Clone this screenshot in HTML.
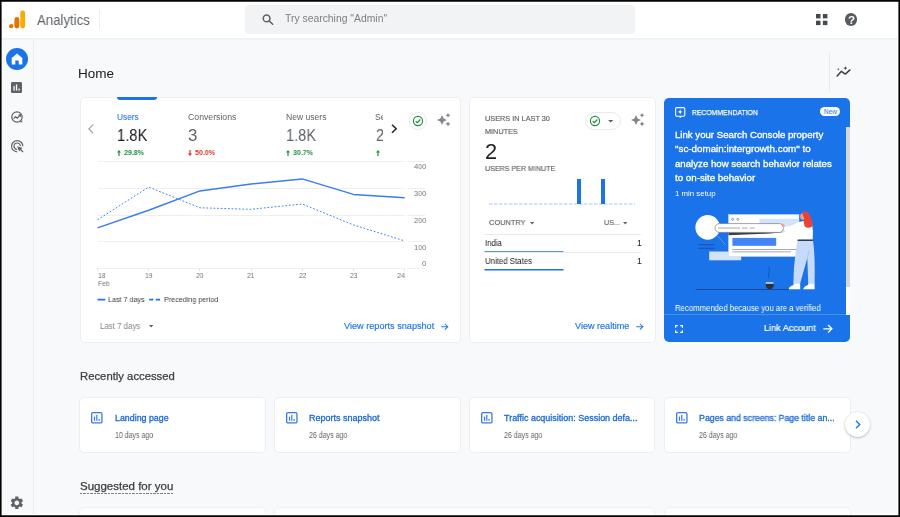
<!DOCTYPE html>
<html>
<head>
<meta charset="utf-8">
<title>Analytics</title>
<style>
*{box-sizing:border-box;margin:0;padding:0}
html,body{width:900px;height:517px;overflow:hidden;background:#f8f9fa}
body{font-family:"Liberation Sans",sans-serif;color:#202124;position:relative}
.a{position:absolute}
.t{position:absolute;white-space:nowrap;line-height:1;will-change:transform;transform-origin:0 0}
.card{position:absolute;background:#fff;border:1px solid #eceef1;border-radius:5px}
svg{position:absolute;overflow:visible}
</style>
</head>
<body>
<div class="a" style="left:0.0px;top:38.0px;width:900.0px;height:2.5px;background:linear-gradient(#eceef0,#f3f4f6 55%,#f8f9fa);"></div>
<div class="a" style="left:0.0px;top:0.0px;width:900.0px;height:38.2px;background:#fff;"></div>
<svg style="left:8px;top:9px" width="20" height="20" viewBox="0 0 20 20">
<circle cx="3.2" cy="17.2" r="2.15" fill="#e37400"/>
<rect x="6.4" y="8.1" width="4.9" height="11.3" rx="2.45" fill="#e37400"/>
<rect x="12.3" y="1.4" width="4.8" height="18" rx="2.4" fill="#f9ab00"/>
</svg>
<div class="t" style="left:36.7px;top:13px;font-size:14.24px;color:#5f6368;transform:scaleX(0.928);">Analytics</div>
<div class="a" style="left:99.0px;top:10.0px;width:1.0px;height:18.5px;background:#eceef0;"></div>
<div class="a" style="left:245.3px;top:5.0px;width:389.7px;height:28.8px;background:#f1f3f4;border-radius:4px"></div>
<svg style="left:261.5px;top:14.2px" width="12" height="11" viewBox="0 0 12 11" fill="none" stroke="#5f6368" stroke-width="1.55">
<circle cx="4.6" cy="4.4" r="3.35"/><path d="M7.1 6.9L10.7 10.3" stroke-linecap="round"/></svg>
<div class="t" style="left:285.0px;top:14px;font-size:10.32px;color:#7b8086;transform:scaleX(1.006);">Try searching &quot;Admin&quot;</div>
<svg style="left:816px;top:14px" width="12" height="12" viewBox="0 0 12 12" fill="#46494d">
<rect x="0" y="0" width="4.5" height="4.4"/><rect x="6.900" y="0" width="4.500" height="4.400"/>
<rect x="0" y="6.700" width="4.500" height="4.400"/><rect x="6.900" y="6.700" width="4.500" height="4.400"/></svg>
<div class="a" style="left:844.7px;top:13.2px;width:12.6px;height:12.6px;background:#575b60;border-radius:50%"></div>
<div class="t" style="left:847.8px;top:14px;font-size:11.63px;color:#fff;font-weight:bold;transform:scaleX(1.000);">?</div>
<div class="a" style="left:33.0px;top:39.5px;width:1.2px;height:477.5px;background:#eceef0;"></div>
<div class="a" style="left:5.8px;top:47.5px;width:22.4px;height:22.4px;background:#1a73e8;border-radius:50%"></div>
<svg style="left:11px;top:52.7px" width="12" height="12" viewBox="0 0 12 12">
<path d="M6 0.6 L11.3 4.9 V11.6 H7.7 V7.6 H4.3 V11.6 H0.7 V4.9 Z" fill="#fff"/></svg>
<svg style="left:11.2px;top:82.2px" width="11" height="11" viewBox="0 0 11 11">
<rect x="0" y="0" width="11" height="11" rx="1.3" fill="#5f6368"/>
<rect x="2.4" y="4.2" width="1.3" height="4.4" fill="#f8f9fa"/>
<rect x="4.9" y="2.4" width="1.3" height="6.2" fill="#f8f9fa"/>
<rect x="7.4" y="6.6" width="1.3" height="2" fill="#f8f9fa"/></svg>
<svg style="left:10.8px;top:110.8px" width="12.4" height="12.4" viewBox="0 0 12.4 12.4" fill="none" stroke="#5f6368">
<circle cx="6" cy="6" r="5.2" stroke-width="1.25"/>
<path d="M9.6 9.9 L11.3 9.6 V11.3 H9.3 Z" fill="#5f6368" stroke="none"/>
<path d="M2.6 7.6 L4.6 5.6 L6.2 7.2 L9.2 4.2" stroke-width="1.25"/>
<path d="M7.6 3.9 H9.5 V5.8" stroke-width="1.1"/></svg>
<svg style="left:10.6px;top:139.6px" width="14" height="14" viewBox="0 0 14 14" fill="none" stroke="#5f6368">
<path d="M6.2 11.8 A5.6 5.6 0 1 1 11.8 6.2" stroke-width="1.2"/>
<path d="M6.2 9.4 A3.2 3.2 0 1 1 9.4 6.2" stroke-width="1.2"/>
<path d="M6.2 6.2 L11.6 8.1 L10 9.1 L12.5 11.6 L11.6 12.5 L9.1 10 L8.1 11.6 Z" fill="#5f6368" stroke="none"/></svg>
<svg style="left:9.05px;top:495.05px" width="15.7" height="15.7" viewBox="0 0 24 24">
<path fill="#5f6368" d="M19.14 12.94c.04-.3.06-.61.06-.94 0-.32-.02-.64-.07-.94l2.03-1.58a.49.49 0 0 0 .12-.61l-1.92-3.32a.488.488 0 0 0-.59-.22l-2.39.96c-.5-.38-1.03-.7-1.62-.94l-.36-2.54a.484.484 0 0 0-.48-.41h-3.84c-.24 0-.43.17-.47.41l-.36 2.54c-.59.24-1.13.57-1.62.94l-2.39-.96c-.22-.08-.47 0-.59.22L2.740 8.870c-.12.21-.08.47.12.61l2.030 1.580c-.05.3-.09.63-.09.94s.02.64.07.94l-2.030 1.580a.49.49 0 0 0-.12.61l1.920 3.320c.12.22.37.29.59.22l2.390-.96c.5.38 1.030.7 1.620.94l.36 2.540c.05.24.24.41.48.41h3.840c.24 0 .44-.17.47-.41l.36-2.540c.59-.24 1.130-.56 1.620-.94l2.390.96c.22.08.47 0 .59-.22l1.920-3.320c.12-.22.07-.47-.12-.61l-2.010-1.580zM12 15.600c-1.980 0-3.600-1.620-3.600-3.600s1.620-3.600 3.600-3.600 3.600 1.620 3.600 3.600-1.620 3.600-3.600 3.600z"/></svg>
<div class="t" style="left:77.9px;top:67px;font-size:13.52px;color:#202124;transform:scaleX(0.990);">Home</div>
<div class="a" style="left:829.0px;top:53.0px;width:1.0px;height:37.5px;background:#e6e8eb;"></div>
<svg style="left:835.5px;top:66px" width="15" height="11" viewBox="0 0 15 11" fill="none" stroke="#3c4043" stroke-width="1.45" stroke-linecap="round" stroke-linejoin="round">
<path d="M1.2 10.1 L5.400 5.300 L9.300 8.100 L14 3.900"/>
<path d="M2.300 2 L2.700 2.800 L3.500 3.200 L2.700 3.600 L2.300 4.400 L1.900 3.600 L1.100 3.200 L1.900 2.800 Z" fill="#3c4043" stroke="none"/>
<path d="M9.400 0.200 L10 1.500 L11.300 2.100 L10 2.700 L9.400 4 L8.800 2.700 L7.500 2.100 L8.800 1.500 Z" fill="#3c4043" stroke="none"/>
</svg>
<div class="card" style="left:80px;top:97px;width:381px;height:246px"></div>
<div class="a" style="left:117.2px;top:96.7px;width:40.0px;height:3.8px;background:#1a73e8;border-radius:0 0 3px 3px"></div>
<svg style="left:88px;top:124px" width="6" height="10" viewBox="0 0 6 10" fill="none" stroke="#9aa0a6" stroke-width="1.2"><path d="M5.2 0.6 L0.9 4.9 L5.2 9.2"/></svg>
<div class="t" style="left:116.8px;top:113px;font-size:8.34px;color:#3d80ee;transform:scaleX(0.999);-webkit-text-stroke:0.15px #3d80ee;">Users</div>
<div class="t" style="left:187.8px;top:113px;font-size:8.58px;color:#5f6368;transform:scaleX(1.015);">Conversions</div>
<div class="t" style="left:285.6px;top:113px;font-size:8.58px;color:#5f6368;transform:scaleX(1.000);">New users</div>
<div class="a" style="left:374px;top:105px;width:8.6px;height:55px;overflow:hidden">
<div class="t" style="left:1.3px;top:8px;font-size:8.58px;color:#5f6368;transform:scaleX(0.969);">Sessions</div>
<div class="t" style="left:1.6px;top:23px;font-size:16.86px;color:#5f6368;transform:scaleX(0.848);">2.1K</div>
</div>
<div class="t" style="left:116.9px;top:128px;font-size:16.86px;color:#202124;transform:scaleX(0.874);">1.8K</div>
<div class="t" style="left:188.4px;top:128px;font-size:16.86px;color:#5f6368;transform:scaleX(1.000);">3</div>
<div class="t" style="left:285.8px;top:128px;font-size:16.86px;color:#5f6368;transform:scaleX(0.865);">1.8K</div>
<svg style="left:117.4px;top:149.6px" width="4" height="6" viewBox="0 0 4 6"><path d="M2 0 L4 2.4 H2.6 V6 H1.4 V2.4 H0 Z" fill="#1e8e3e"/></svg>
<div class="t" style="left:123.9px;top:149px;font-size:7.99px;color:#1e8e3e;font-weight:bold;transform:scaleX(0.882);">29.8%</div>
<svg style="left:188.4px;top:149.6px" width="4" height="6" viewBox="0 0 4 6"><path d="M2 6 L4 3.6 H2.6 V0 H1.4 V3.6 H0 Z" fill="#d93025"/></svg>
<div class="t" style="left:194.8px;top:149px;font-size:7.99px;color:#d93025;font-weight:bold;transform:scaleX(0.887);">50.0%</div>
<svg style="left:286.2px;top:149.6px" width="4" height="6" viewBox="0 0 4 6"><path d="M2 0 L4 2.4 H2.6 V6 H1.4 V2.4 H0 Z" fill="#1e8e3e"/></svg>
<div class="t" style="left:292.8px;top:149px;font-size:7.99px;color:#1e8e3e;font-weight:bold;transform:scaleX(0.882);">30.7%</div>
<svg style="left:376px;top:149.6px" width="4" height="6" viewBox="0 0 4 6"><path d="M2 0 L4 2.4 H2.6 V6 H1.4 V2.4 H0 Z" fill="#1e8e3e"/></svg>
<svg style="left:391px;top:124px" width="7" height="10" viewBox="0 0 7 10" fill="none" stroke="#202124" stroke-width="1.5"><path d="M1 0.8 L5.2 4.7 L1 8.7"/></svg>
<div class="a" style="left:409.0px;top:112.2px;width:17.6px;height:17.6px;background:#fff;border:1px solid #e8eaed;border-radius:50%"></div>
<svg style="left:411.8px;top:115px" width="12" height="12" viewBox="0 0 12 12" fill="none" stroke="#1e8e3e">
<circle cx="6" cy="6" r="4.6" stroke-width="1.15"/><path d="M3.7 6.1 L5.3 7.7 L8.4 4.5" stroke-width="1.2"/></svg>
<svg style="left:436.6px;top:113.2px" width="14" height="14" viewBox="0 0 14 14" fill="#80868b">
<path d="M5 2 L6.600 5.400 L10 7 L6.600 8.600 L5 12 L3.400 8.600 L0 7 L3.400 5.400 Z"/>
<path d="M11 -0.300 L11.800 1.400 L13.500 2.200 L11.800 3 L11 4.700 L10.200 3 L8.500 2.200 L10.200 1.400 Z"/>
<path d="M11 8.400 L11.800 10.100 L13.500 10.900 L11.800 11.700 L11 13.400 L10.200 11.700 L8.500 10.900 L10.200 10.100 Z"/></svg>
<div class="a" style="left:97.5px;top:161.1px;width:307.1px;height:1.0px;background:#eeeff1;"></div>
<div class="a" style="left:407.0px;top:161.1px;width:18.4px;height:1.0px;background:#eeeff1;"></div>
<div class="a" style="left:97.5px;top:187.8px;width:307.1px;height:1.0px;background:#eeeff1;"></div>
<div class="a" style="left:407.0px;top:187.8px;width:18.4px;height:1.0px;background:#eeeff1;"></div>
<div class="a" style="left:97.5px;top:214.6px;width:307.1px;height:1.0px;background:#eeeff1;"></div>
<div class="a" style="left:407.0px;top:214.6px;width:18.4px;height:1.0px;background:#eeeff1;"></div>
<div class="a" style="left:97.5px;top:241.3px;width:307.1px;height:1.0px;background:#eeeff1;"></div>
<div class="a" style="left:407.0px;top:241.3px;width:18.4px;height:1.0px;background:#eeeff1;"></div>
<div class="a" style="left:97.5px;top:267.9px;width:307.1px;height:1.0px;background:#eeeff1;"></div>
<div class="a" style="left:407.0px;top:267.9px;width:18.4px;height:1.0px;background:#eeeff1;"></div>
<div class="a" style="left:97.0px;top:268.4px;width:1.0px;height:2.6px;background:#e3e5e8;"></div>
<div class="a" style="left:148.2px;top:268.4px;width:1.0px;height:2.6px;background:#e3e5e8;"></div>
<div class="a" style="left:199.4px;top:268.4px;width:1.0px;height:2.6px;background:#e3e5e8;"></div>
<div class="a" style="left:250.6px;top:268.4px;width:1.0px;height:2.6px;background:#e3e5e8;"></div>
<div class="a" style="left:301.7px;top:268.4px;width:1.0px;height:2.6px;background:#e3e5e8;"></div>
<div class="a" style="left:352.9px;top:268.4px;width:1.0px;height:2.6px;background:#e3e5e8;"></div>
<div class="a" style="left:404.1px;top:268.4px;width:1.0px;height:2.6px;background:#e3e5e8;"></div>
<svg style="left:0;top:0" width="900" height="517" viewBox="0 0 900 517" fill="none">
<polyline points="97.5,219.8 148.7,187.1 199.9,207.8 251.1,209.3 302.2,204.0 353.4,224.9 404.6,240.9" stroke="#4285f4" stroke-width="1" stroke-dasharray="1.8 1.8"/>
<polyline points="97.5,227.9 148.7,210.3 199.9,190.9 251.1,184.1 302.2,178.9 353.4,194.4 404.6,197.7" stroke="#3b7ded" stroke-width="1.5" stroke-linejoin="round"/></svg>
<div class="t" style="left:414.0px;top:163px;font-size:7.99px;color:#70757a;transform:scaleX(0.915);">400</div>
<div class="t" style="left:414.0px;top:190px;font-size:7.99px;color:#70757a;transform:scaleX(0.915);">300</div>
<div class="t" style="left:414.0px;top:217px;font-size:7.99px;color:#70757a;transform:scaleX(0.915);">200</div>
<div class="t" style="left:414.0px;top:244px;font-size:7.99px;color:#70757a;transform:scaleX(0.915);">100</div>
<div class="t" style="left:422.2px;top:260px;font-size:7.70px;color:#70757a;transform:scaleX(1.000);">0</div>
<div class="t" style="left:98.0px;top:272px;font-size:7.70px;color:#70757a;transform:scaleX(0.887);">18</div>
<div class="t" style="left:98.0px;top:280px;font-size:7.70px;color:#70757a;transform:scaleX(0.874);">Feb</div>
<div class="t" style="left:145.0px;top:272px;font-size:7.70px;color:#70757a;transform:scaleX(0.863);">19</div>
<div class="t" style="left:196.2px;top:272px;font-size:7.70px;color:#70757a;transform:scaleX(0.863);">20</div>
<div class="t" style="left:247.4px;top:272px;font-size:7.70px;color:#70757a;transform:scaleX(0.863);">21</div>
<div class="t" style="left:298.5px;top:272px;font-size:7.70px;color:#70757a;transform:scaleX(0.863);">22</div>
<div class="t" style="left:349.7px;top:272px;font-size:7.70px;color:#70757a;transform:scaleX(0.863);">23</div>
<div class="t" style="left:397.0px;top:272px;font-size:7.70px;color:#70757a;transform:scaleX(0.933);">24</div>
<svg style="left:0;top:0" width="900" height="517" viewBox="0 0 900 517"><path d="M97.500 299.700 H105.300 M149.200 299.700 H153.300 M155.800 299.700 H160" stroke="#1a73e8" stroke-width="1.700" fill="none"/></svg>
<div class="t" style="left:108.0px;top:296px;font-size:7.99px;color:#3c4043;transform:scaleX(0.898);">Last 7 days</div>
<div class="t" style="left:163.7px;top:296px;font-size:7.99px;color:#3c4043;transform:scaleX(0.898);">Preceding period</div>
<div class="t" style="left:99.7px;top:322px;font-size:8.43px;color:#80868b;transform:scaleX(0.935);">Last 7 days</div>
<svg style="left:149.2px;top:325px" width="4.4" height="2.4" viewBox="0 0 4.4 2.4"><path d="M0 0 H4.4 L2.2 2.4 Z" fill="#5f6368"/></svg>
<div class="t" style="left:343.9px;top:322px;font-size:8.92px;color:#1f74e8;transform:scaleX(1.026);-webkit-text-stroke:0.15px #1f74e8;">View reports snapshot</div>
<svg style="left:441.3px;top:322.6px" width="7.4" height="7.4" viewBox="0 0 8 8" fill="none" stroke="#2b78e8" stroke-width="1.1"><path d="M0.3 4 H7.3 M4.2 0.8 L7.4 4 L4.2 7.2"/></svg>
<div class="card" style="left:469px;top:97px;width:187px;height:246px"></div>
<div class="t" style="left:484.5px;top:115px;font-size:7.32px;color:#5f6368;transform:scaleX(0.999);-webkit-text-stroke:0.15px #5f6368;">USERS IN LAST 30</div>
<div class="t" style="left:484.5px;top:128px;font-size:7.32px;color:#5f6368;transform:scaleX(0.991);-webkit-text-stroke:0.15px #5f6368;">MINUTES</div>
<div class="t" style="left:485.2px;top:141px;font-size:21.80px;color:#202124;transform:scaleX(1.000);">2</div>
<div class="t" style="left:484.5px;top:165px;font-size:7.32px;color:#5f6368;transform:scaleX(0.971);-webkit-text-stroke:0.15px #5f6368;">USERS PER MINUTE</div>
<div class="a" style="left:584.6px;top:112.3px;width:36.9px;height:17.4px;background:#fff;border:1px solid #e8eaed;border-radius:9px"></div>
<svg style="left:589px;top:115px" width="12" height="12" viewBox="0 0 12 12" fill="none" stroke="#1e8e3e">
<circle cx="6" cy="6" r="4.6" stroke-width="1.15"/><path d="M3.7 6.1 L5.3 7.7 L8.4 4.5" stroke-width="1.2"/></svg>
<svg style="left:608.2px;top:119.9px" width="5.4" height="2.6" viewBox="0 0 5.4 2.6"><path d="M0 0 H5.4 L2.7 2.6 Z" fill="#5f6368"/></svg>
<svg style="left:631.4px;top:113.2px" width="14" height="14" viewBox="0 0 14 14" fill="#80868b">
<path d="M5 2 L6.600 5.400 L10 7 L6.600 8.600 L5 12 L3.400 8.600 L0 7 L3.400 5.400 Z"/>
<path d="M11 -0.300 L11.800 1.400 L13.500 2.200 L11.800 3 L11 4.700 L10.200 3 L8.500 2.200 L10.200 1.400 Z"/>
<path d="M11 8.400 L11.800 10.100 L13.500 10.900 L11.800 11.700 L11 13.400 L10.200 11.700 L8.500 10.900 L10.200 10.100 Z"/></svg>
<svg style="left:0;top:0" width="900" height="517" viewBox="0 0 900 517"><line x1="489" y1="204" x2="635" y2="204" stroke="#a9c7fa" stroke-width="1" stroke-dasharray="3.6 1.4"/><line x1="485" y1="251.900" x2="563" y2="251.900" stroke="#1a73e8" stroke-width="1.400" stroke-linecap="round"/><line x1="485" y1="269.700" x2="563" y2="269.700" stroke="#1a73e8" stroke-width="1.400" stroke-linecap="round"/></svg>
<div class="a" style="left:576.8px;top:178.5px;width:4.3px;height:25.7px;background:#1a73e8;"></div>
<div class="a" style="left:601.2px;top:178.5px;width:4.3px;height:25.7px;background:#1a73e8;"></div>
<div class="t" style="left:489.2px;top:219px;font-size:7.46px;color:#5f6368;transform:scaleX(0.991);-webkit-text-stroke:0.15px #5f6368;">COUNTRY</div>
<svg style="left:529.8px;top:221.6px" width="4.4" height="2.4" viewBox="0 0 4.4 2.4"><path d="M0 0 H4.4 L2.2 2.400 Z" fill="#5f6368"/></svg>
<div class="t" style="left:603.5px;top:219px;font-size:7.46px;color:#5f6368;transform:scaleX(0.956);-webkit-text-stroke:0.15px #5f6368;">US...</div>
<svg style="left:623px;top:221.600px" width="4.4" height="2.4" viewBox="0 0 4.4 2.4"><path d="M0 0 H4.4 L2.2 2.400 Z" fill="#5f6368"/></svg>
<div class="a" style="left:484.3px;top:233.8px;width:156.3px;height:1.0px;background:#e8eaed;"></div>
<div class="t" style="left:484.5px;top:239px;font-size:8.72px;color:#202124;transform:scaleX(0.888);">India</div>
<div class="t" style="left:636.8px;top:239px;font-size:8.72px;color:#202124;transform:scaleX(1.000);">1</div>
<div class="a" style="left:484.3px;top:252.2px;width:156.3px;height:0.9px;background:#e8eaed;"></div>
<div class="t" style="left:484.5px;top:257px;font-size:8.72px;color:#202124;transform:scaleX(0.898);">United States</div>
<div class="t" style="left:636.8px;top:257px;font-size:8.72px;color:#202124;transform:scaleX(1.000);">1</div>
<div class="t" style="left:574.7px;top:322px;font-size:8.92px;color:#1f74e8;transform:scaleX(1.019);-webkit-text-stroke:0.15px #1f74e8;">View realtime</div>
<svg style="left:636.2px;top:322.6px" width="7.4" height="7.4" viewBox="0 0 8 8" fill="none" stroke="#2b78e8" stroke-width="1.1"><path d="M0.3 4 H7.3 M4.2 0.8 L7.4 4 L4.2 7.2"/></svg>
<div class="a" style="left:664.4px;top:97.6px;width:185.6px;height:244.2px;background:#1a73e8;border-radius:5px"></div>
<div class="a" style="left:846.0px;top:127.0px;width:4.0px;height:160.4px;background:#d5d8dc;"></div>
<div class="a" style="left:846.0px;top:287.4px;width:4.0px;height:27.2px;background:#fff;"></div>
<svg style="left:675.2px;top:107px" width="10.4" height="11.6" viewBox="0 0 10.4 11.6" fill="none" stroke="#fff" stroke-width="1.1">
<rect x="0.6" y="0.6" width="9.2" height="8.6" rx="1.2"/>
<path d="M5.2 2.3 L5.9 4.2 L7.800 4.9 L5.9 5.600 L5.2 7.5 L4.5 5.600 L2.600 4.9 L4.5 4.2 Z" fill="#fff" stroke="none"/>
<path d="M3.7 9.4 H6.7 L5.2 11 Z" fill="#fff" stroke="none"/></svg>
<div class="t" style="left:691.5px;top:109px;font-size:7.99px;color:#fff;transform:scaleX(0.854);-webkit-text-stroke:0.25px #fff;">RECOMMENDATION</div>
<div class="a" style="left:820.4px;top:106.8px;width:20.1px;height:9.4px;background:#fff;border-radius:4.7px"></div>
<div class="t" style="left:823.8px;top:108px;font-size:7.70px;color:#1a73e8;transform:scaleX(0.855);">New</div>
<div class="t" style="left:674.8px;top:131px;font-size:9.11px;color:#fff;transform:scaleX(1.059);-webkit-text-stroke:0.3px #fff;">Link your Search Console property</div>
<div class="t" style="left:674.8px;top:145px;font-size:9.11px;color:#fff;transform:scaleX(1.079);-webkit-text-stroke:0.3px #fff;">&quot;sc-domain:intergrowth.com&quot; to</div>
<div class="t" style="left:674.8px;top:160px;font-size:9.11px;color:#fff;transform:scaleX(1.062);-webkit-text-stroke:0.3px #fff;">analyze how search behavior relates</div>
<div class="t" style="left:674.8px;top:174px;font-size:9.11px;color:#fff;transform:scaleX(1.072);-webkit-text-stroke:0.3px #fff;">to on-site behavior</div>
<div class="t" style="left:674.6px;top:190px;font-size:7.70px;color:#fff;transform:scaleX(1.020);">1 min setup</div>
<div class="t" style="left:674.5px;top:304px;font-size:8.43px;color:#fff;transform:scaleX(0.921);">Recommended because you are a verified</div>
<div class="a" style="left:664.4px;top:314.2px;width:181.6px;height:0.9px;background:#4a90ee;"></div>
<svg style="left:675.1px;top:324.8px" width="8" height="8" viewBox="0 0 8 8" fill="none" stroke="#fff" stroke-width="1.2">
<path d="M0.6 2.800 V0.6 H2.800 M5.2 0.6 H7.4 V2.800 M7.4 5.2 V7.4 H5.2 M2.800 7.4 H0.6 V5.2"/></svg>
<div class="t" style="left:763.8px;top:323px;font-size:9.59px;color:#fff;transform:scaleX(0.952);-webkit-text-stroke:0.2px #fff;">Link Account</div>
<svg style="left:823.3px;top:323.8px" width="9.6" height="9.6" viewBox="0 0 8 8" fill="none" stroke="#fff" stroke-width="1.1"><path d="M0.3 4 H7.3 M4.2 0.8 L7.4 4 L4.2 7.2"/></svg>
<svg style="left:0;top:0" width="900" height="517" viewBox="0 0 900 517">
<!-- light panel behind/top-right -->
<rect x="709.2" y="251.5" width="32" height="8.8" fill="#d2e3fc"/>
<!-- dark small lines left -->
<rect x="698.5" y="244.3" width="16.2" height="0.9" fill="#174ea6"/>
<rect x="698.5" y="247.8" width="16.2" height="0.9" fill="#174ea6"/>
<line x1="717.5" y1="236" x2="725.6" y2="244.8" stroke="#8ab4f8" stroke-width="0.6"/>
<!-- browser window -->
<rect x="728.5" y="214.5" width="70.5" height="42" fill="#fff" stroke="#c9d7ee" stroke-width="0.5"/>
<rect x="759.4" y="218.8" width="39.6" height="13.4" fill="#d2e3fc"/>
<circle cx="732.7" cy="219.3" r="1" fill="none" stroke="#5f6368" stroke-width="0.6"/>
<circle cx="737.8" cy="219.3" r="1" fill="none" stroke="#5f6368" stroke-width="0.6"/>
<!-- shadow under pill -->
<path d="M728.5 232.3 H784 L770 233.6 L728.5 235.2 Z" fill="#3c4043"/>
<!-- white circle -->
<circle cx="707.7" cy="227.4" r="12.3" fill="#fff"/>
<!-- search pill -->
<rect x="715" y="223.6" width="68.6" height="8.8" rx="4.4" fill="#fff" stroke="#5f6368" stroke-width="0.6"/>
<rect x="718" y="227.6" width="22" height="0.9" fill="#9aa0a6"/>
<rect x="742" y="227.6" width="5.5" height="0.9" fill="#9aa0a6"/>
<rect x="749.8" y="227.6" width="4.8" height="0.9" fill="#9aa0a6"/>
<!-- blue rect & lines in window -->
<rect x="732.4" y="237.9" width="43.8" height="7.9" fill="#4285f4"/>
<rect x="732.4" y="249.1" width="64.6" height="0.9" fill="#9aa0a6"/>
<rect x="732.4" y="251.4" width="58.6" height="0.9" fill="#9aa0a6"/>
<!-- ground -->
<rect x="695.6" y="289.1" width="94" height="0.8" fill="#16408f"/>
<!-- cup + steam -->
<path d="M768 266.500 q2.600 2.600 1.2 5.500 q-1.600 3 0 6.200" fill="none" stroke="#1d3f86" stroke-width="0.6"/>
<path d="M765.8 282.4 H773.4 V283.8 H765.8 Z" fill="#fff"/>
<path d="M765.8 283.800 H773.4 Q773.4 288 771 289.100 H768.2 Q765.8 288 765.8 283.800 Z" fill="#2b2f36"/>
<path d="M773.4 284.5 q2 0.300 0.200 2.600" fill="none" stroke="#2b2f36" stroke-width="0.600"/>
<!-- person: legs -->
<path d="M797.5 240.5 L813 240.500 Q815.2 255 814.600 283.200 L808.2 283.200 L807.3 258 L800.2 283.200 L793.4 283.200 Q793.5 262 797.5 240.500 Z" fill="#c6dafc"/>
<path d="M807.300 258 L809 250" stroke="#8fb1ea" stroke-width="0.500" fill="none"/>
<!-- shoes -->
<path d="M793.6 283.200 H800.2 V289.300 H788.6 Q789 286.500 793.600 285 Z" fill="#fff"/>
<path d="M808.2 283.200 H814.600 V289.300 H803.200 Q803.600 286.500 808.200 285 Z" fill="#fff"/>
<!-- torso + arm -->
<path d="M801 221.5 Q806 219.8 812 223.5 Q813.5 231 812.7 239.8 L797.5 239.8 Q797.6 236 798.4 233.7 L786.4 232.8 L783.8 229.8 L783.6 227 L786 226.300 L790 226.200 L797 222.700 Q799 221.800 801 221.500 Z" fill="#fff"/>
<path d="M797.500 239.600 L812.800 239.600 L812.800 240.900 L797.500 240.900 Z" fill="#2b2f36"/>
<!-- hand -->
<path d="M781.200 224 Q783.500 223 785.200 226.200 L783.400 227.600 Q781.600 226.600 781.200 224 Z" fill="#f6a08d"/>
<!-- head / hair -->
<ellipse cx="802.800" cy="216.500" rx="2.600" ry="3.200" fill="#f6a08d"/>
<path d="M803 211.600 Q807.500 210 809.600 215 Q813.500 222.500 812.200 226.500 Q808 229.200 804.600 226.200 Q803 222 804.200 218 Q801.800 214.500 803 211.600 Z" fill="#ea4335"/>
</svg>
<div class="t" style="left:80.0px;top:371px;font-size:11.08px;color:#3c4043;transform:scaleX(1.020);-webkit-text-stroke:0.25px #3c4043;">Recently accessed</div>
<div class="card" style="left:79.39999999999999px;top:397px;width:186.4px;height:56px"></div>
<svg style="left:91.0px;top:412.4px" width="11.6" height="11.6" viewBox="0 0 11.6 11.6" fill="none">
<rect x="0.65" y="0.65" width="10.3" height="10.3" rx="1.3" stroke="#3b78e7" stroke-width="1.3"/>
<rect x="2.9" y="4.6" width="1.2" height="4.2" fill="#3b78e7"/><rect x="5.2" y="2.9" width="1.2" height="5.9" fill="#3b78e7"/><rect x="7.5" y="7" width="1.200" height="1.800" fill="#3b78e7"/></svg>
<div class="t" style="left:114.5px;top:414px;font-size:8.82px;color:#1a69d6;transform:scaleX(1.004);-webkit-text-stroke:0.3px #1a69d6;">Landing page</div>
<div class="t" style="left:114.6px;top:432px;font-size:8.14px;color:#5f6368;transform:scaleX(0.861);">10 days ago</div>
<div class="card" style="left:274.0px;top:397px;width:186.6px;height:56px"></div>
<svg style="left:285.6px;top:412.4px" width="11.6" height="11.6" viewBox="0 0 11.6 11.6" fill="none">
<rect x="0.65" y="0.65" width="10.3" height="10.3" rx="1.3" stroke="#3b78e7" stroke-width="1.3"/>
<rect x="2.9" y="4.6" width="1.2" height="4.2" fill="#3b78e7"/><rect x="5.2" y="2.9" width="1.2" height="5.9" fill="#3b78e7"/><rect x="7.5" y="7" width="1.200" height="1.800" fill="#3b78e7"/></svg>
<div class="t" style="left:309.0px;top:414px;font-size:8.82px;color:#1a69d6;transform:scaleX(1.021);-webkit-text-stroke:0.3px #1a69d6;">Reports snapshot</div>
<div class="t" style="left:309.2px;top:432px;font-size:8.14px;color:#5f6368;transform:scaleX(0.866);">26 days ago</div>
<div class="card" style="left:469.40000000000003px;top:397px;width:186.1px;height:56px"></div>
<svg style="left:481.0px;top:412.4px" width="11.6" height="11.6" viewBox="0 0 11.6 11.6" fill="none">
<rect x="0.65" y="0.65" width="10.3" height="10.3" rx="1.3" stroke="#3b78e7" stroke-width="1.3"/>
<rect x="2.9" y="4.6" width="1.2" height="4.2" fill="#3b78e7"/><rect x="5.2" y="2.9" width="1.2" height="5.9" fill="#3b78e7"/><rect x="7.5" y="7" width="1.200" height="1.800" fill="#3b78e7"/></svg>
<div class="t" style="left:504.1px;top:414px;font-size:8.82px;color:#1a69d6;transform:scaleX(1.017);-webkit-text-stroke:0.3px #1a69d6;">Traffic acquisition: Session defa...</div>
<div class="t" style="left:504.3px;top:432px;font-size:8.14px;color:#5f6368;transform:scaleX(0.866);">26 days ago</div>
<div class="card" style="left:664.0px;top:397px;width:186.6px;height:56px"></div>
<svg style="left:675.6px;top:412.4px" width="11.6" height="11.6" viewBox="0 0 11.6 11.6" fill="none">
<rect x="0.65" y="0.65" width="10.3" height="10.3" rx="1.3" stroke="#3b78e7" stroke-width="1.3"/>
<rect x="2.9" y="4.6" width="1.2" height="4.2" fill="#3b78e7"/><rect x="5.2" y="2.9" width="1.2" height="5.9" fill="#3b78e7"/><rect x="7.5" y="7" width="1.200" height="1.800" fill="#3b78e7"/></svg>
<div class="t" style="left:698.8px;top:414px;font-size:8.82px;color:#1a69d6;transform:scaleX(0.992);-webkit-text-stroke:0.3px #1a69d6;">Pages and screens: Page title an...</div>
<div class="t" style="left:698.9px;top:432px;font-size:8.14px;color:#5f6368;transform:scaleX(0.866);">26 days ago</div>
<div class="a" style="left:844.6px;top:412.3px;width:25px;height:25px;border-radius:50%;background:#fff;box-shadow:0 1px 2.5px rgba(60,64,67,.32),0 0 1px rgba(60,64,67,.12)"></div>
<svg style="left:854.6px;top:420.3px" width="6" height="9" viewBox="0 0 6 9" fill="none" stroke="#1a73e8" stroke-width="1.4"><path d="M1 0.800 L4.700 4.500 L1 8.200"/></svg>
<div class="t" style="left:79.7px;top:481px;font-size:10.65px;color:#3c4043;transform:scaleX(1.080);-webkit-text-stroke:0.25px #3c4043;">Suggested for you</div>
<div class="a" style="left:80px;top:492.6px;width:93.5px;height:1px;background:repeating-linear-gradient(90deg,#7d8288 0 2.200px,transparent 2.200px 3.500px)"></div>
<div class="card" style="left:79.4px;top:507px;width:186.4px;height:30px;background:#fdfdfd;border-color:#eff0f2"></div>
<div class="card" style="left:274.2px;top:507px;width:381.3px;height:30px;background:#fdfdfd;border-color:#eff0f2"></div>
<div class="card" style="left:664.0px;top:507px;width:186.6px;height:30px;background:#fdfdfd;border-color:#eff0f2"></div>
<div class="a" style="left:897.0px;top:2.0px;width:2.0px;height:514.0px;background:rgba(255,255,255,.95);z-index:49"></div>
<div class="a" style="left:1.0px;top:514.0px;width:898.0px;height:2.0px;background:rgba(255,255,255,.95);z-index:49"></div>
<svg style="left:0;top:0;z-index:50" width="900" height="517" viewBox="0 0 900 517"><path fill-rule="evenodd" fill="#050505" d="M0 0 H900 V517 H0 Z M1.600 1.800 V515.200 H898.400 V1.800 Z"/></svg>
</body>
</html>
